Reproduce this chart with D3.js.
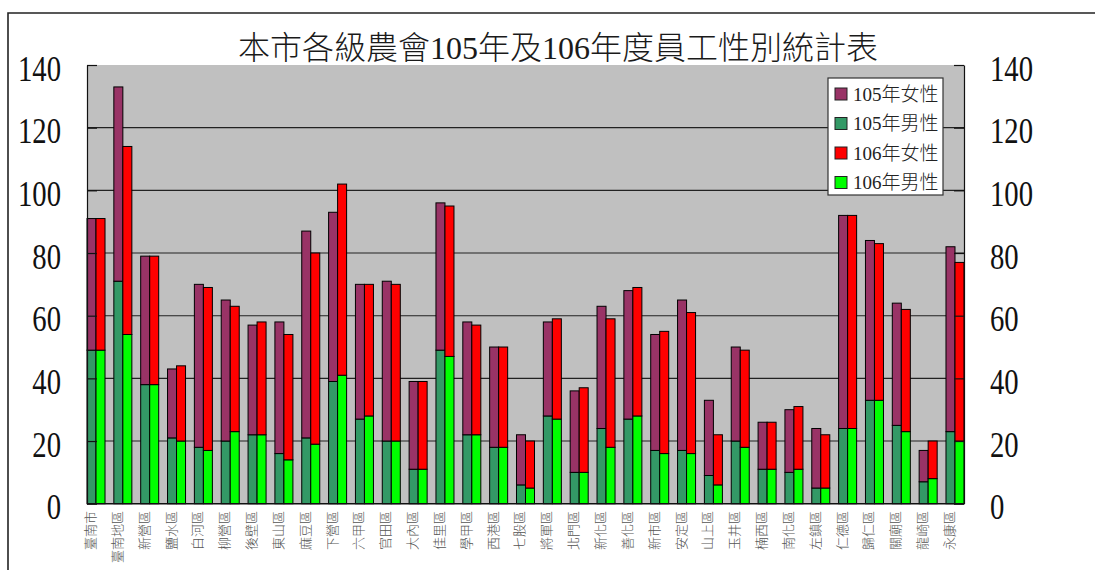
<html>
    <head>
        <meta charset="utf-8">
        <title>本市各級農會員工性別統計表</title>
        <style type="text/css">
            body { margin: 0; background: #fff; }
        </style>
        <script src="https://cdnjs.cloudflare.com/ajax/libs/d3/7.8.5/d3.min.js"></script>
    </head>
    <body>
    <svg width="1095" height="570"></svg>
    <script>
    var categories = ["臺南市","臺南地區","新營區","鹽水區","白河區","柳營區","後壁區","東山區","麻豆區","下營區","六甲區",
        "官田區","大內區","佳里區","學甲區","西港區","七股區","將軍區","北門區","新化區","善化區","新市區",
        "安定區","山上區","玉井區","楠西區","南化區","左鎮區","仁德區","歸仁區","關廟區","龍崎區","永康區"];
    var male105   = [49,71,38,21,18,20,22,16,21,39,27,20,11,49,22,18,6,28,10,24,27,17,17,9,20,11,10,5,24,33,25,7,23];
    var female105 = [42,62,41,22,52,45,35,42,66,54,43,51,28,47,36,32,16,30,26,39,41,37,48,24,30,15,20,19,68,51,39,10,59];
    var male106   = [49,54,38,20,17,23,22,14,19,41,28,20,11,47,22,18,5,27,10,18,28,16,16,6,18,11,11,5,24,33,23,8,20];
    var female106 = [42,60,41,24,52,40,36,40,61,61,42,50,28,48,35,32,15,32,27,41,41,39,45,16,31,15,20,17,68,50,39,12,57];
    var yTicks = [0,20,40,60,80,100,120,140];
    var seriesNames = ["105年女性","105年男性","106年女性","106年男性"];
    var seriesColors = ["#993366","#339966","#ff0000","#00ff00"];

    var svg = d3.select("svg"),
        plot = {left: 87, right: 964, top: 65, bottom: 503.7},
        numFont = "'Liberation Serif','Noto Sans CJK TC',serif";

    var xScale = d3.scaleBand()
        .domain(categories)
        .range([plot.left, plot.right])
        .paddingInner(0.329)
        .paddingOuter(0);
    var xScaleIn = d3.scaleBand()
        .domain(["105","106"])
        .range([0, xScale.bandwidth()]);
    var yScale = d3.scaleLinear()
        .domain([0,140])
        .range([plot.bottom, plot.top]);

    // outer frame
    svg.append("path")
        .attr("d", "M8,575V13H1100")
        .attr("fill","none")
        .attr("stroke","#222")
        .attr("stroke-width",1.6);

    // title
    svg.append("text")
        .attr("x",558)
        .attr("y",59)
        .attr("text-anchor","middle")
        .style("font-family",numFont)
        .style("font-size","32px")
        .style("font-weight","300")
        .attr("fill","#1a1a1a")
        .text("本市各級農會105年及106年度員工性別統計表");

    // plot background
    svg.append("rect")
        .attr("x",plot.left)
        .attr("y",plot.top)
        .attr("width",plot.right-plot.left)
        .attr("height",plot.bottom-plot.top)
        .attr("fill","#c0c0c0");

    // gridlines
    svg.append("g")
        .selectAll("line")
        .data(yTicks.filter(d=>d>0 && d<140))
        .enter()
        .append("line")
            .attr("x1",plot.left)
            .attr("x2",plot.right)
            .attr("y1",d=>yScale(d))
            .attr("y2",d=>yScale(d))
            .attr("stroke","#222")
            .attr("stroke-width",1.1);

    // bars
    var stacks = [
        {year:"105", male:male105, female:female105, cm:seriesColors[1], cf:seriesColors[0]},
        {year:"106", male:male106, female:female106, cm:seriesColors[3], cf:seriesColors[2]}
    ];
    var barData = [];
    categories.forEach(function(c,i){
        stacks.forEach(function(s){
            barData.push({cat:c, year:s.year, y0:0, y1:s.male[i], color:s.cm});
            barData.push({cat:c, year:s.year, y0:s.male[i], y1:s.male[i]+s.female[i], color:s.cf});
        });
    });
    svg.append("g")
        .selectAll("rect")
        .data(barData)
        .enter()
        .append("rect")
            .attr("x",d=>xScale(d.cat)+xScaleIn(d.year))
            .attr("y",d=>yScale(d.y1))
            .attr("width",xScaleIn.bandwidth())
            .attr("height",d=>yScale(d.y0)-yScale(d.y1))
            .attr("fill",d=>d.color)
            .attr("stroke","#000")
            .attr("stroke-width",1);

    // axes: lines with inward ticks
    svg.append("g")
        .attr("transform",`translate(${plot.left},0)`)
        .call(d3.axisLeft(yScale).tickValues(yTicks).tickSizeInner(-10).tickSizeOuter(0).tickFormat(""));
    svg.append("g")
        .attr("transform",`translate(${plot.right},0)`)
        .call(d3.axisRight(yScale).tickValues(yTicks).tickSizeInner(-10).tickSizeOuter(0).tickFormat(""));
    svg.selectAll(".domain,.tick line")
        .attr("stroke","#111")
        .attr("stroke-width",1.2);
    svg.append("line")
        .attr("x1",plot.left)
        .attr("x2",plot.right)
        .attr("y1",plot.bottom)
        .attr("y2",plot.bottom)
        .attr("stroke","#111")
        .attr("stroke-width",1.4);

    // tick labels both sides
    [{x:61, anchor:"end"},{x:990, anchor:"start"}].forEach(function(side){
        svg.append("g")
            .selectAll("text")
            .data(yTicks)
            .enter()
            .append("text")
                .attr("transform",d=>`translate(${side.x},${yScale(d)+3}) scale(0.82,1)`)
                .attr("dy","0.36em")
                .attr("text-anchor",side.anchor)
                .style("font-family",numFont)
                .style("font-size","35px")
                .attr("fill","#111")
                .text(d=>d);
    });

    // category labels (rotated)
    svg.append("g")
        .selectAll("text")
        .data(categories)
        .enter()
        .append("text")
            .attr("transform",d=>`translate(${xScale(d)+8},511) rotate(-90)`)
            .attr("text-anchor","end")
            .style("font-family","'Noto Sans CJK TC',sans-serif")
            .style("font-size","13px")
            .style("font-weight","300")
            .attr("fill","#555")
            .text(d=>d);

    // legend
    var legend = svg.append("g")
        .attr("transform","translate(828,78)");
    legend.append("rect")
        .attr("x",0)
        .attr("y",0)
        .attr("width",115)
        .attr("height",117)
        .attr("fill","#fff")
        .attr("stroke","#333")
        .attr("stroke-width",1.2);
    var items = legend.selectAll("g")
        .data(seriesNames)
        .enter()
        .append("g")
            .attr("transform",(d,i)=>`translate(7,${16+i*29.5})`);
    items.append("rect")
        .attr("x",0)
        .attr("y",-6)
        .attr("width",12)
        .attr("height",12)
        .attr("fill",(d,i)=>seriesColors[i])
        .attr("stroke","#222")
        .attr("stroke-width",1);
    items.append("text")
        .attr("x",18)
        .attr("y",0)
        .attr("dy","0.36em")
        .style("font-family",numFont)
        .style("font-size","19px")
        .style("font-weight","300")
        .attr("fill","#222")
        .text(d=>d);
    </script>
  </body>
</html>
